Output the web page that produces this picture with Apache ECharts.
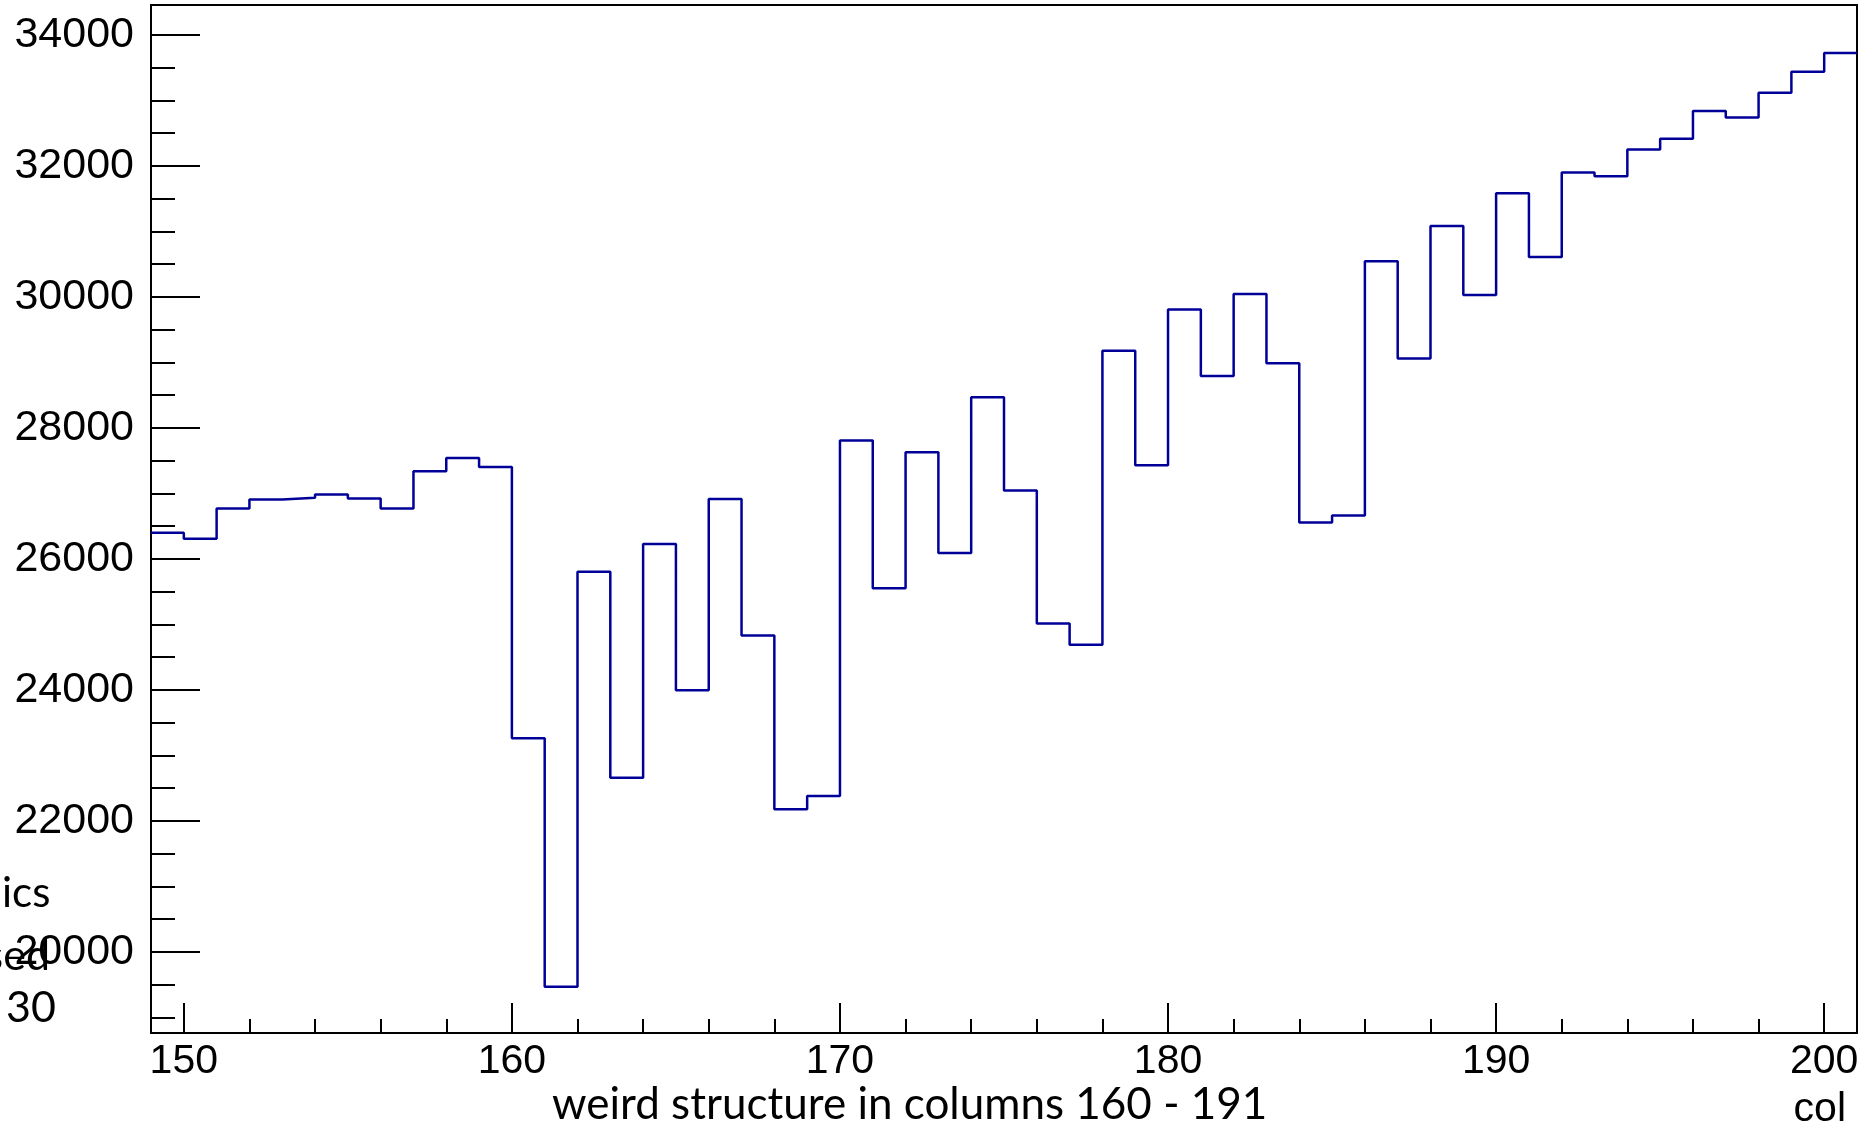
<!DOCTYPE html>
<html>
<head>
<meta charset="utf-8">
<script src="https://cdn.jsdelivr.net/npm/echarts@6/dist/echarts.min.js"></script>
<style>
  html, body { margin: 0; padding: 0; background: #fff; }
  #chart { width: 1862px; height: 1128px; }
</style>
</head>
<body>
<div id="chart"></div>
<script>
// Histogram bins: lower edge of each column bin and its entry count
const binLowEdges = [
  149, 150, 151, 152, 153, 154, 155, 156, 157, 158,
  159, 160, 161, 162, 163, 164, 165, 166, 167, 168,
  169, 170, 171, 172, 173, 174, 175, 176, 177, 178,
  179, 180, 181, 182, 183, 184, 185, 186, 187, 188,
  189, 190, 191, 192, 193, 194, 195, 196, 197, 198,
  199, 200
];
const counts = [
  26400, 26310, 26770, 26910, 26935, 26985, 26925, 26770, 27340, 27540,
  27405, 23265, 19470, 25805, 22660, 26230, 23995, 26915, 24830, 22180,
  22380, 27810, 25555, 27630, 26090, 28470, 27045, 25015, 24690, 29180,
  27430, 29810, 28795, 30045, 28990, 26558, 26665, 30545, 29060, 31085,
  30030, 31585, 30610, 31900, 31845, 32250, 32415, 32840, 32740, 33120,
  33440, 33725
];
const binWidth = 1;

// Axis ranges and tick positions
const xRange = [149, 201];
const yRange = [18763, 34458];
const xMajorTicks = [150, 160, 170, 180, 190, 200];
const xMinorTicks = [
  152, 154, 156, 158, 162, 164, 166, 168, 172, 174, 176, 178,
  182, 184, 186, 188, 192, 194, 196, 198
];
const yMajorTicks = [20000, 22000, 24000, 26000, 28000, 30000, 32000, 34000];
const yMinorTicks = [
  19000, 19500, 20500, 21000, 21500, 22500, 23000, 23500,
  24500, 25000, 25500, 26500, 27000, 27500, 28500, 29000,
  29500, 30500, 31000, 31500, 32500, 33000, 33500
];

// Step outline: one point per bin lower edge, closed by the last upper edge
const outline = binLowEdges.map((e, i) => [e, counts[i]]);
outline.push([binLowEdges[binLowEdges.length - 1] + binWidth, counts[counts.length - 1]]);

const tickFont = 'Liberation Sans';
const noteFont = 'Lato';
const black = '#000';

function majorAxis(range, ticks, tickLen, position, labelMargin, labelSize) {
  return {
    type: 'value', min: range[0], max: range[1], position: position,
    axisLine: { show: true, onZero: false, lineStyle: { color: black, width: 2 } },
    axisTick: { show: true, inside: true, length: tickLen, customValues: ticks,
                lineStyle: { color: black, width: 2 } },
    axisLabel: { show: true, customValues: ticks, margin: labelMargin,
                 formatter: (v) => String(v),
                 fontFamily: tickFont, fontSize: labelSize, color: black },
    splitLine: { show: false }
  };
}
function minorAxis(range, ticks, tickLen, position) {
  return {
    type: 'value', min: range[0], max: range[1], position: position,
    axisLine: { show: false, onZero: false },
    axisTick: { show: true, inside: true, length: tickLen, customValues: ticks,
                lineStyle: { color: black, width: 2 } },
    axisLabel: { show: false },
    splitLine: { show: false }
  };
}

const chart = echarts.init(document.getElementById('chart'), null, { renderer: 'canvas' });
chart.setOption({
  animation: false,
  backgroundColor: '#fff',
  grid: { left: 151, right: 5, top: 5, bottom: 95, containLabel: false,
          show: true, borderColor: black, borderWidth: 2, backgroundColor: 'transparent' },
  xAxis: [
    majorAxis(xRange, xMajorTicks, 30, 'bottom', 8, 41),
    minorAxis(xRange, xMinorTicks, 14, 'bottom')
  ],
  yAxis: [
    majorAxis(yRange, yMajorTicks, 49, 'left', 17, 43),
    minorAxis(yRange, yMinorTicks, 24, 'left')
  ],
  series: [{
    type: 'line',
    xAxisIndex: 0, yAxisIndex: 0,
    data: outline,
    step: 'end',
    showSymbol: false,
    clip: true,
    lineStyle: { color: '#000099', width: 2.5 }
  }],
  graphic: [
    { type: 'text', x: 2, y: 893, style: { text: 'ics', font: '42px ' + noteFont, fill: black, textAlign: 'left', textVerticalAlign: 'middle' } },
    { type: 'text', x: 50, y: 956, style: { text: 'sed', font: '43px ' + noteFont, fill: black, textAlign: 'right', textVerticalAlign: 'middle' } },
    { type: 'text', x: 56, y: 1008, style: { text: '30', font: '43px ' + noteFont, fill: black, textAlign: 'right', textVerticalAlign: 'middle' } },
    { type: 'text', x: 552, y: 1105, style: { text: 'weird structure in columns 160 - 191', font: '44px ' + noteFont, fill: black, textAlign: 'left', textVerticalAlign: 'middle' } },
    { type: 'text', x: 1846, y: 1110, style: { text: 'col', font: '41px ' + tickFont, fill: black, textAlign: 'right', textVerticalAlign: 'middle' } }
  ]
});
</script>
</body>
</html>
